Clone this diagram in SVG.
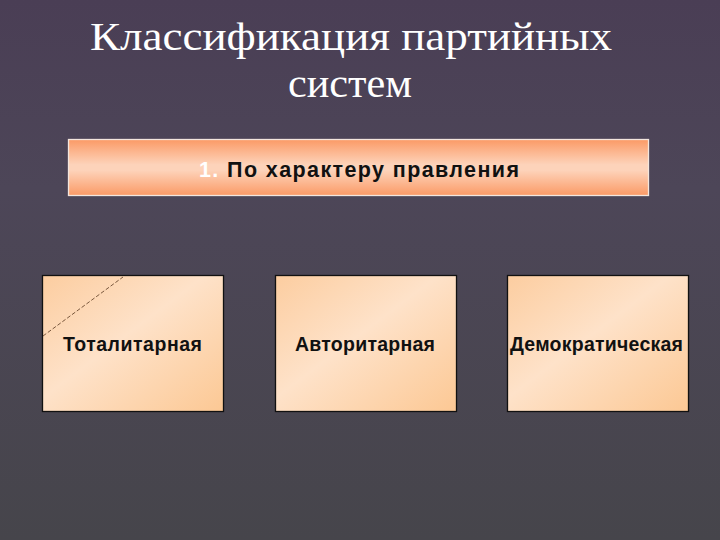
<svg xmlns="http://www.w3.org/2000/svg" width="720" height="540" viewBox="0 0 720 540">
<defs>
<linearGradient id="bg" x1="0" y1="0" x2="0" y2="1">
<stop offset="0" stop-color="#4a3e55"/>
<stop offset="0.35" stop-color="#4d4658"/>
<stop offset="1" stop-color="#46454b"/>
</linearGradient>
<linearGradient id="hdr" x1="0" y1="0" x2="0" y2="1">
<stop offset="0" stop-color="#fb9a66"/>
<stop offset="0.45" stop-color="#fdd3ba"/>
<stop offset="0.55" stop-color="#fdd3ba"/>
<stop offset="1" stop-color="#fb9a66"/>
</linearGradient>
<linearGradient id="card" x1="0" y1="0" x2="1" y2="1">
<stop offset="0" stop-color="#fccda0"/>
<stop offset="0.45" stop-color="#fee2c9"/>
<stop offset="1" stop-color="#fcc894"/>
</linearGradient>
<style>
.card{fill:url(#card);stroke:#111;stroke-width:1.3}
.lbl{font-family:"Liberation Sans",Arial,sans-serif;font-weight:bold;font-size:19.5px;fill:#111;text-anchor:middle}
.title{font-family:"Liberation Serif","Times New Roman",serif;font-size:40px;fill:#fff;text-anchor:middle}
</style>
</defs>
<rect width="720" height="540" fill="url(#bg)"/>
<g id="title">
<text class="title" x="351" y="50" textLength="522" lengthAdjust="spacingAndGlyphs">Классификация партийных</text>
<text class="title" x="350" y="97" textLength="124" lengthAdjust="spacingAndGlyphs">систем</text>
</g>
<g id="header">
<rect x="68.5" y="139.5" width="580" height="56" fill="url(#hdr)" stroke="#f3e6de" stroke-width="1.3"/>
<text x="199" y="177" textLength="320" style="font-family:'Liberation Sans',Arial,sans-serif;font-weight:bold;font-size:21.5px"><tspan fill="#fff">1. </tspan><tspan fill="#111">По характеру правления</tspan></text>
</g>
<g id="totalitarian">
<rect class="card" x="42.5" y="275.5" width="181" height="136"/>
<text class="lbl" x="132.5" y="351" textLength="139">Тоталитарная</text>
</g>
<g id="authoritarian">
<rect class="card" x="275.5" y="275.5" width="181" height="136"/>
<text class="lbl" x="365" y="351" textLength="140">Авторитарная</text>
</g>
<g id="democratic">
<rect class="card" x="507.5" y="275.5" width="181" height="136"/>
<text class="lbl" x="596.5" y="351" textLength="173">Демократическая</text>
</g>
<g id="connectors">
<line x1="43" y1="336" x2="123" y2="277" stroke="#6b4a30" stroke-width="0.9" stroke-dasharray="4,2"/>
</g>
</svg>
